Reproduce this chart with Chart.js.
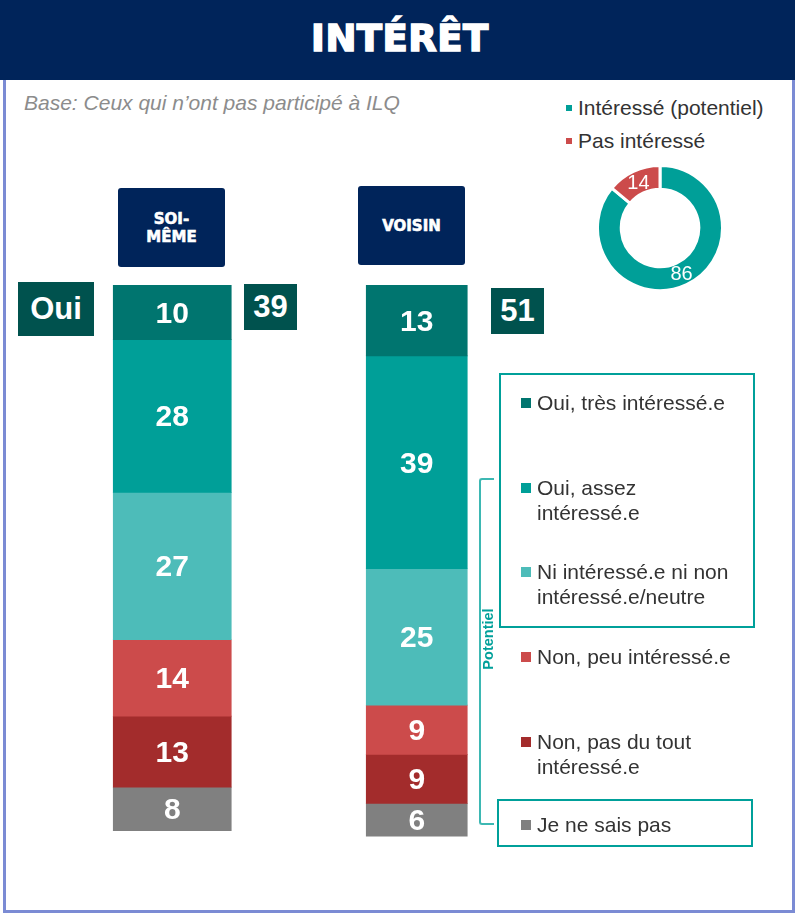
<!DOCTYPE html>
<html>
<head>
<meta charset="utf-8">
<script src="https://cdn.jsdelivr.net/npm/chart.js@4.4.0/dist/chart.umd.min.js"></script>
<style>
  body { margin: 0; background: #fff; font-family: "Liberation Sans", Arial, sans-serif; }
  #wrap { position: relative; width: 795px; height: 913px; overflow: hidden; }
  #frame { position: absolute; left: 3px; top: 0; width: 786px; height: 907px; border: 3px solid #7b8bd4; }
  #titlebar { position: absolute; left: 0; top: 0; width: 795px; height: 80px; background: #00245a; }
  #title { position: absolute; left: 0; top: 14px; width: 800px; text-align: center; color: #fff;
    font: bold 37px "DejaVu Sans", sans-serif; line-height: 50px; -webkit-text-stroke: 1.6px #fff; letter-spacing: 0.5px; }
  #base { position: absolute; left: 24px; top: 90px; color: #8c8c8c; font: italic 21px "Liberation Sans", Arial, sans-serif; line-height: 25px; }
  .head { position: absolute; width: 107px; height: 79px; background: #00245a; border-radius: 3px; color: #fff;
    font: bold 15px "DejaVu Sans", sans-serif; line-height: 18px; display: flex; align-items: center; justify-content: center;
    text-align: center; -webkit-text-stroke: 0.6px #fff; }
  .tot { position: absolute; background: #00524e; color: #fff; font: bold 31px "Liberation Sans", Arial, sans-serif;
    display: flex; align-items: center; justify-content: center; }
  canvas { position: absolute; }
  .box { position: absolute; border: 2px solid #00a09a; box-sizing: border-box; }
  .item { position: absolute; left: 537px; color: #333; font-size: 21px; line-height: 24.5px; }
  .item i { position: absolute; left: -16px; top: 7px; width: 10px; height: 10px; }
  .dleg { position: absolute; left: 578px; color: #333; font-size: 21px; line-height: 24px; }
  .dleg i { position: absolute; left: -12px; top: 9px; width: 6px; height: 6px; }
  #bracket { position: absolute; left: 479px; top: 478px; width: 15px; height: 347px; box-sizing: border-box;
    border: 2px solid #3db8b3; border-right: none; border-radius: 3px 0 0 3px; }
  #pot { position: absolute; left: 453px; top: 630px; width: 70px; text-align: center; color: #00a09a;
    font: bold 14.5px "Liberation Sans", Arial, sans-serif; line-height: 18px; transform: rotate(-90deg); }
</style>
</head>
<body>
<div id="wrap">
  <div id="frame"></div>
  <div id="titlebar"></div>
  <div id="title">INTÉRÊT</div>
  <div id="base">Base: Ceux qui n’ont pas participé à ILQ</div>
  <canvas id="bars" width="489" height="573" style="left:50px;top:285px;"></canvas>
  <canvas id="donut" width="128" height="128" style="left:596px;top:164px;"></canvas>
  <div id="heads"></div>
  <div id="legend"></div>
  <div id="dlegend"></div>
  <div class="box" style="left:499px;top:373px;width:256px;height:255px;"></div>
  <div class="box" style="left:497px;top:799px;width:256px;height:48px;"></div>
  <div id="bracket"></div>
  <div id="pot">Potentiel</div>
</div>
<script>
// data
const categories = ['SOI-<br>MÊME', 'VOISIN'];
const series = ['Oui, très intéressé.e', 'Oui, assez<br>intéressé.e', 'Ni intéressé.e ni non<br>intéressé.e/neutre',
  'Non, peu intéressé.e', 'Non, pas du tout<br>intéressé.e', 'Je ne sais pas'];
const soiMeme = [10, 28, 27, 14, 13, 8];
const voisin = [13, 39, 25, 9, 9, 6];
const totalOui = [39, 51];
const donutLabels = ['Intéressé (potentiel)', 'Pas intéressé'];
const donutValues = [86, 14];

const colors = ['#00756f', '#009f98', '#4dbcb9', '#cc4b4b', '#a32c2c', '#808080'];
const donutColors = ['#009f98', '#cc4b4b'];

// header boxes, "Oui" and totals
const heads = document.getElementById('heads');
const headPos = [[118, 188], [358, 186]];
const totPos = [[244, 284, 53, 46], [491, 288, 53, 46]];
categories.forEach((c, i) => {
  let h = document.createElement('div');
  h.className = 'head';
  h.style.left = headPos[i][0] + 'px';
  h.style.top = headPos[i][1] + 'px';
  h.innerHTML = c;
  heads.appendChild(h);
  let t = document.createElement('div');
  t.className = 'tot';
  t.style.left = totPos[i][0] + 'px';
  t.style.top = totPos[i][1] + 'px';
  t.style.width = totPos[i][2] + 'px';
  t.style.height = totPos[i][3] + 'px';
  t.textContent = totalOui[i];
  heads.appendChild(t);
});
let oui = document.createElement('div');
oui.className = 'tot';
oui.style.cssText = 'left:18px;top:282px;width:76px;height:54px;';
oui.textContent = 'Oui';
heads.appendChild(oui);

// legend
const legend = document.getElementById('legend');
const itemTops = [391, 476, 560, 645, 730, 813];
series.forEach((s, i) => {
  let d = document.createElement('div');
  d.className = 'item';
  d.style.top = itemTops[i] + 'px';
  d.innerHTML = '<i style="background:' + colors[i] + '"></i>' + s;
  legend.appendChild(d);
});
const dlegend = document.getElementById('dlegend');
donutLabels.forEach((s, i) => {
  let d = document.createElement('div');
  d.className = 'dleg';
  d.style.top = (96 + i * 33) + 'px';
  d.innerHTML = '<i style="background:' + donutColors[i] + '"></i>' + s;
  dlegend.appendChild(d);
});

// value labels inside the bars / slices
const valueLabels = {
  id: 'valueLabels',
  afterDatasetsDraw(chart, args, opts) {
    const ctx = chart.ctx;
    ctx.save();
    ctx.font = opts.font;
    ctx.fillStyle = '#fff';
    ctx.textAlign = 'center';
    ctx.textBaseline = 'middle';
    chart.data.datasets.forEach((ds, i) => {
      chart.getDatasetMeta(i).data.forEach((el, j) => {
        const v = ds.data[j];
        if (v == null) return;
        let x, y;
        if (chart.config.type === 'bar') {
          const p = el.getProps(['x', 'y', 'base'], true);
          x = p.x;
          y = (p.y + p.base) / 2 + 2;
        } else {
          const p = el.getCenterPoint(true);
          x = p.x;
          y = p.y + 1;
        }
        ctx.fillText(v, x, y);
      });
    });
    ctx.restore();
  }
};

// stacked bars: one dataset per answer and per column (columns differ in width)
const datasets = [];
[soiMeme, voisin].forEach((vals, col) => {
  vals.forEach((v, i) => {
    datasets.push({
      label: series[i],
      data: col === 0 ? [v, null] : [null, v],
      backgroundColor: colors[i],
      barThickness: col === 0 ? 118 : 101,
      stack: 's'
    });
  });
});

new Chart(document.getElementById('bars'), {
  type: 'bar',
  data: { labels: categories, datasets: datasets },
  options: {
    responsive: false,
    animation: false,
    plugins: { legend: { display: false }, tooltip: { enabled: false },
      valueLabels: { font: 'bold 30px "Liberation Sans", Arial, sans-serif' } },
    scales: {
      x: { stacked: true, display: false },
      y: { stacked: true, display: false, reverse: true, min: 0, max: 105 }
    }
  },
  plugins: [valueLabels]
});

new Chart(document.getElementById('donut'), {
  type: 'doughnut',
  data: {
    labels: donutLabels,
    datasets: [{ data: donutValues, backgroundColor: donutColors, borderColor: '#fff', borderWidth: 3 }]
  },
  options: {
    responsive: false,
    animation: false,
    cutout: '62%',
    plugins: { legend: { display: false }, tooltip: { enabled: false },
      valueLabels: { font: '20px "Liberation Sans", Arial, sans-serif' } }
  },
  plugins: [valueLabels]
});
</script>
</body>
</html>
